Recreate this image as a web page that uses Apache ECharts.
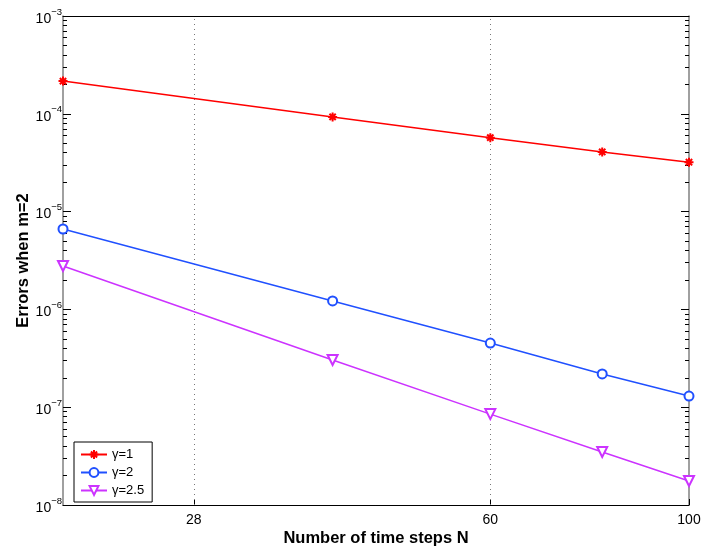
<!DOCTYPE html>
<html><head><meta charset="utf-8">
<script src="https://cdn.jsdelivr.net/npm/echarts@6/dist/echarts.min.js"></script>
<style>html,body{margin:0;padding:0;background:#fff}#c{width:704px;height:553px}</style>
</head><body><div id="c"></div>
<script>
const N = [20, 40, 60, 80, 100];
const err_g1 = [2.16e-4, 9.3e-5, 5.7e-5, 4.07e-5, 3.2e-5];
const err_g2 = [6.64e-6, 1.22e-6, 4.53e-7, 2.19e-7, 1.30e-7];
const err_g25 = [2.78e-6, 3.04e-7, 8.5e-8, 3.48e-8, 1.76e-8];
const seriesNames = ['γ=1', 'γ=2', 'γ=2.5'];
const xTicks = [28, 60, 100];
const xGridLines = [28, 60];
const yMajor = [1e-8, 1e-7, 1e-6, 1e-5, 1e-4, 1e-3];
const yMinor = [];
for (let d = -8; d <= -4; d++) for (let k = 2; k <= 9; k++) yMinor.push(k * Math.pow(10, d));

const font = 'Liberation Sans, Arial, Helvetica, sans-serif';
const star = 'path://M5 0L5 10M0 5L10 5M1.5 1.5L8.5 8.5M8.5 1.5L1.5 8.5';

function yfmt(v) {
  const e = Math.round(Math.log10(v));
  return '{b|10}{s|' + (e < 0 ? '\u2212' : '') + Math.abs(e) + '}';
}
const yRich = {
  b: {fontSize: 14, fontFamily: font, color: '#000', padding: [6, 0, 0, 0]},
  s: {fontSize: 9.5, fontFamily: font, color: '#000', padding: [0, 0, 8, 0]}
};

const grid = {left: 63, right: 15, top: 16, bottom: 48, containLabel: false, outerBoundsMode: 'none'};

function yAxisDef(pos, ticks, len, labels, line) {
  return {
    type: 'log', logBase: 10, min: 1e-8, max: 1e-3, position: pos,
    axisLine: {show: line, lineStyle: {color: '#808080', width: 1.5}},
    axisTick: {show: true, inside: true, length: len, customValues: ticks, lineStyle: {color: '#000', width: 1}},
    axisLabel: labels ? {show: true, customValues: yMajor, formatter: yfmt, rich: yRich, margin: 1} : {show: false},
    splitLine: {show: false}, minorTick: {show: false}
  };
}

const colors = ['#ff0000', '#2050ff', '#cc33ff'];
const symbols = [star, 'emptyCircle', 'emptyTriangle'];
const datas = [err_g1, err_g2, err_g25];

const series = datas.map((d, i) => ({
  name: seriesNames[i], type: 'line', xAxisIndex: 0, yAxisIndex: 0,
  data: N.map((x, j) => [x, d[j]]),
  symbol: symbols[i], symbolSize: i === 0 ? 9 : (i === 1 ? 9 : 10), symbolRotate: i === 2 ? 180 : 0,
  showAllSymbol: true,
  lineStyle: {color: colors[i], width: 1.5},
  itemStyle: i === 0 ? {color: colors[i], borderColor: colors[i], borderWidth: 2} : {color: colors[i], borderWidth: 1.2},
  emphasis: {disabled: true},
  animation: false, z: 5
}));
series[0].markLine = {
  silent: true, symbol: 'none', label: {show: false}, animation: false,
  lineStyle: {color: '#777', type: [1, 4], width: 1},
  data: xGridLines.map(v => ({xAxis: v}))
};

const chart = echarts.init(document.getElementById('c'));
chart.setOption({
  animation: false,
  backgroundColor: '#fff',
  grid: grid,
  legend: {
    left: 74, top: 442, orient: 'vertical', itemGap: 5, itemWidth: 26, itemHeight: 11,
    padding: [6, 8, 5, 6], borderColor: '#000', borderWidth: 1, backgroundColor: '#fff',
    textStyle: {fontSize: 13, fontFamily: font, color: '#000'},
    data: seriesNames
  },
  xAxis: [{
    type: 'log', logBase: 10, min: 20, max: 100, position: 'bottom',
    name: 'Number of time steps N', nameLocation: 'middle', nameGap: 25, nameMoveOverlap: false,
    nameTextStyle: {fontSize: 16.5, fontWeight: 'bold', fontFamily: font, color: '#000'},
    axisLine: {show: true, lineStyle: {color: '#000', width: 1}},
    axisTick: {show: true, inside: true, length: 6, customValues: xTicks, lineStyle: {color: '#000'}},
    axisLabel: {show: true, customValues: xTicks, fontSize: 14, fontFamily: font, color: '#000', margin: 8},
    splitLine: {show: false}
  }, {
    type: 'log', logBase: 10, min: 20, max: 100, position: 'top',
    axisLine: {show: true, lineStyle: {color: '#000', width: 1}},
    axisTick: {show: false}, axisLabel: {show: false}, splitLine: {show: false}
  }],
  yAxis: [
    Object.assign(yAxisDef('left', yMajor, 8, true, true), {
      name: 'Errors when m=2', nameLocation: 'middle', nameGap: 31, nameMoveOverlap: false,
      nameTextStyle: {fontSize: 16.5, fontWeight: 'bold', fontFamily: font, color: '#000'}
    }),
    yAxisDef('left', yMinor, 4, false, false),
    yAxisDef('right', yMajor, 8, false, true),
    yAxisDef('right', yMinor, 4, false, false)
  ],
  series: series
});
</script>
</body></html>
